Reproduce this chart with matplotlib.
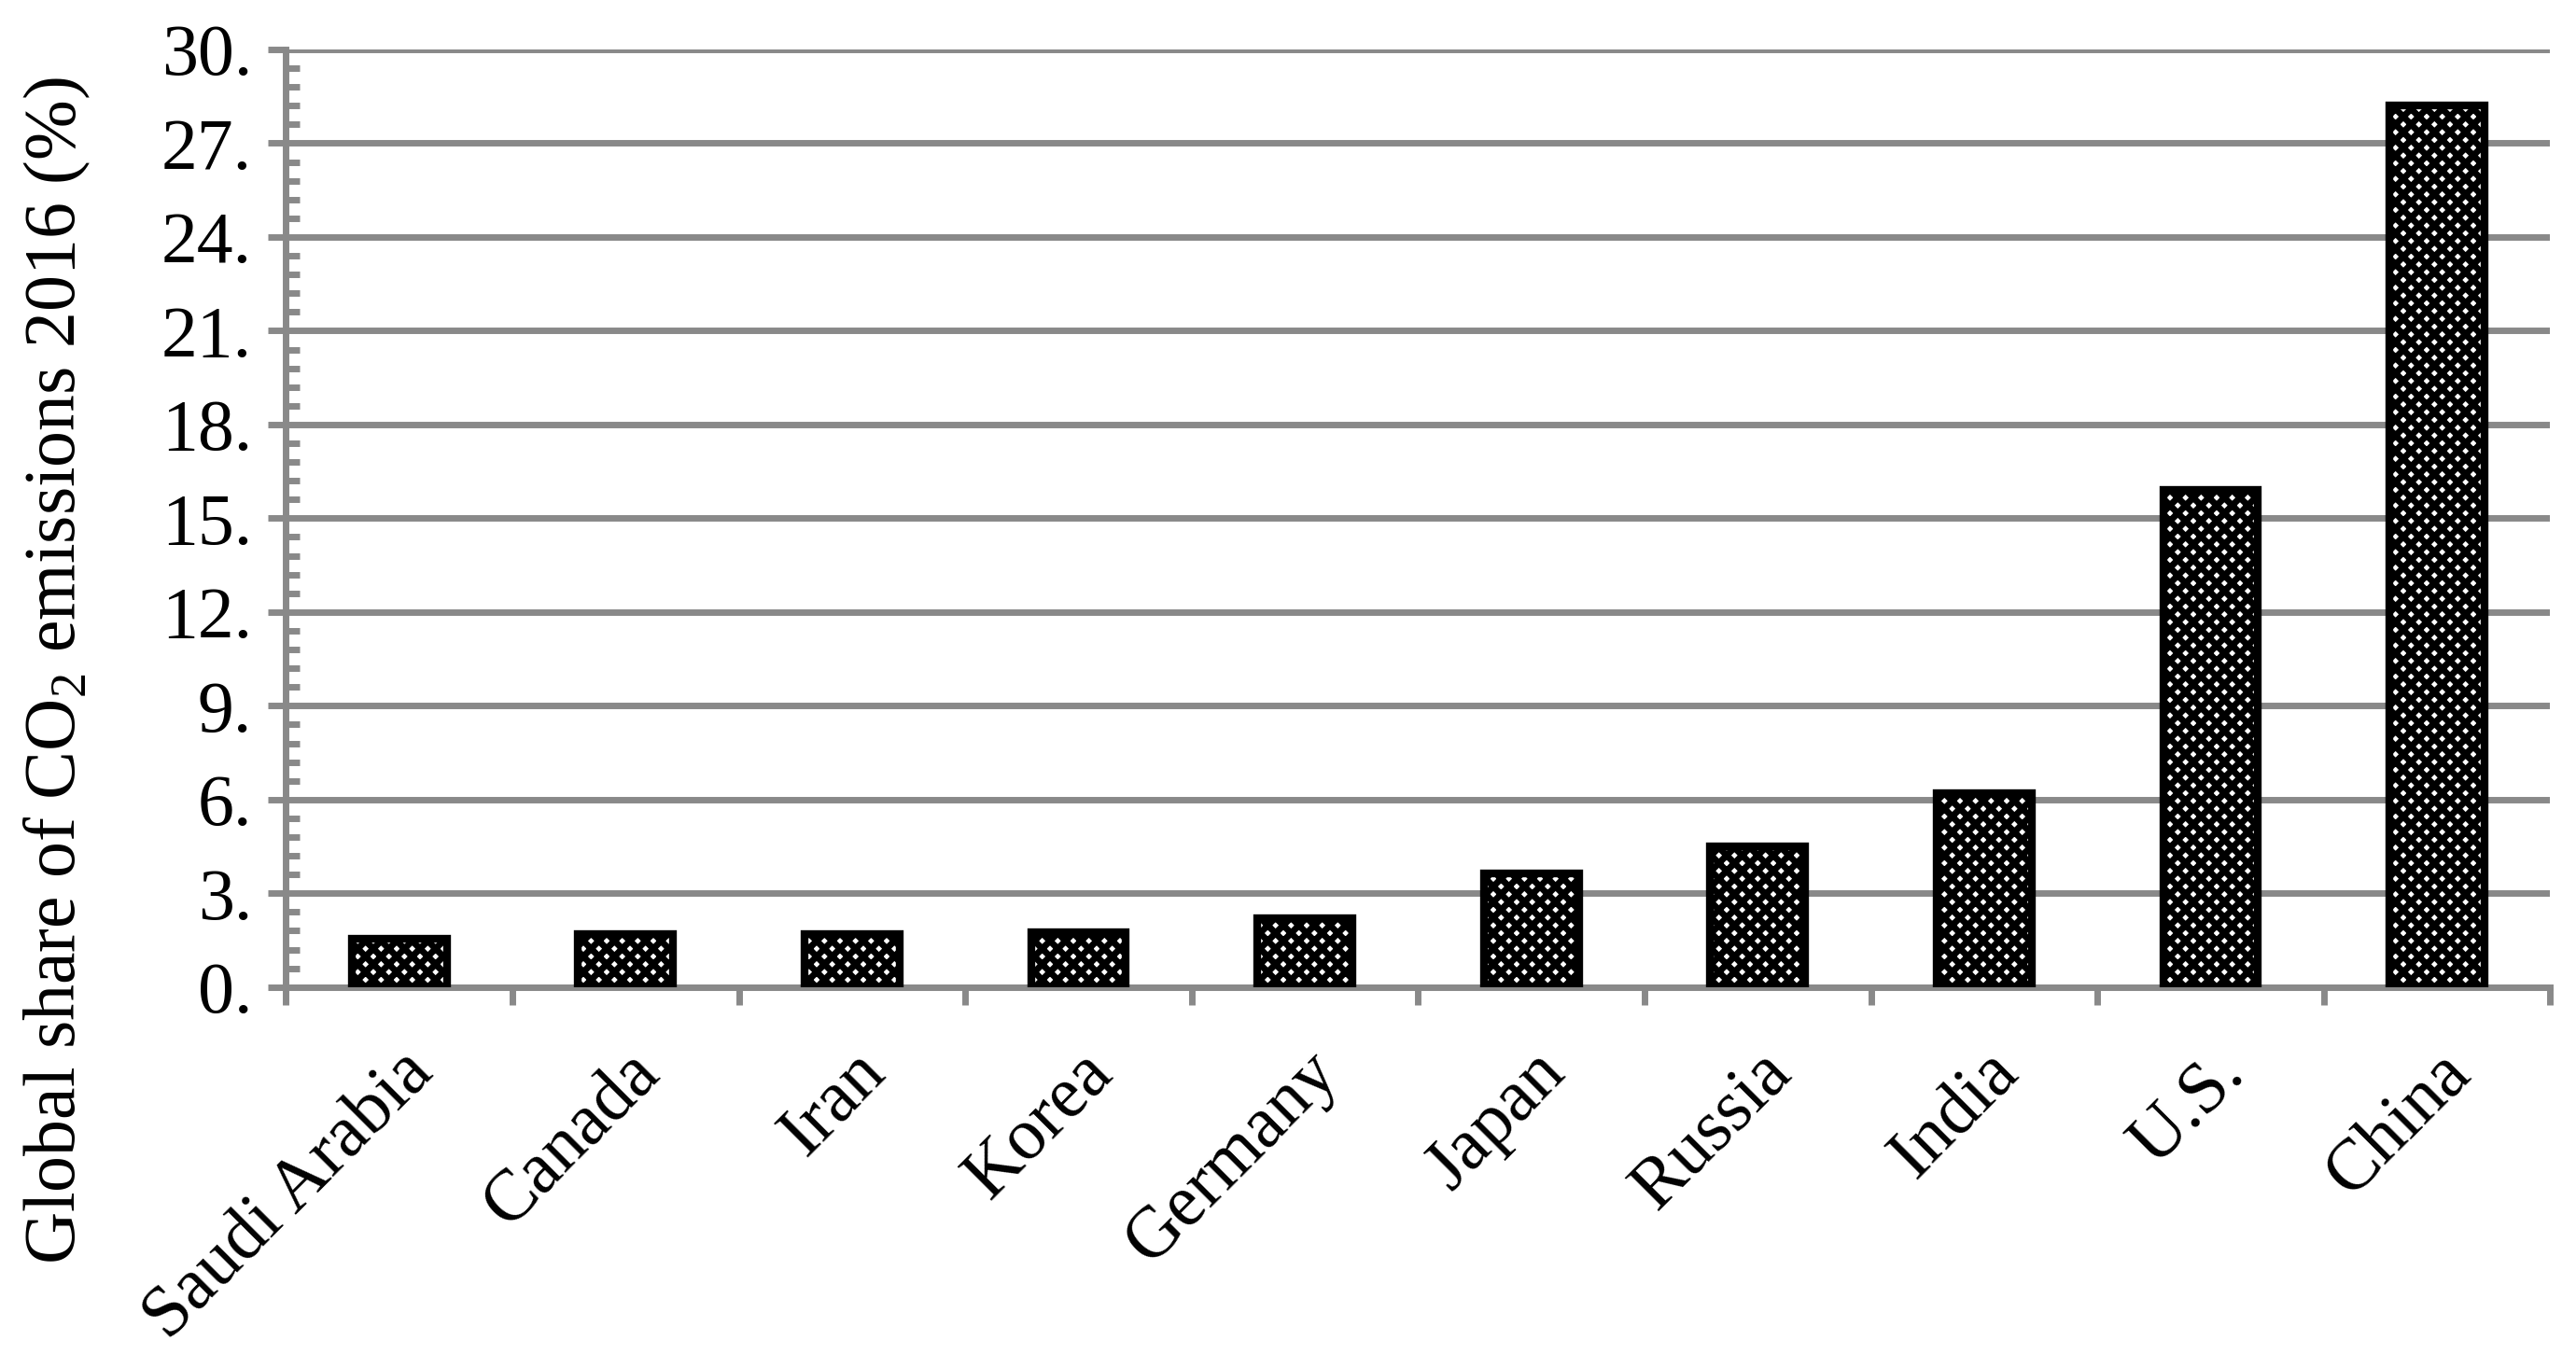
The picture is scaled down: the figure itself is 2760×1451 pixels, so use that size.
import numpy as np
import matplotlib
matplotlib.use("Agg")
import matplotlib.pyplot as plt
from matplotlib.ticker import MultipleLocator, FixedLocator

countries = ["Saudi Arabia", "Canada", "Iran", "Korea", "Germany",
             "Japan", "Russia", "India", "U.S.", "China"]
share = [1.55, 1.7, 1.7, 1.75, 2.2, 3.65, 4.5, 6.2, 15.9, 28.2]
yticks = [0, 3, 6, 9, 12, 15, 18, 21, 24, 27, 30]

plt.rcParams['font.family'] = ['Liberation Serif', 'DejaVu Serif']
plt.rcParams['mathtext.fontset'] = 'custom'
plt.rcParams['mathtext.rm'] = 'Liberation Serif'
plt.rcParams['hatch.linewidth'] = 2.5
plt.rcParams['hatch.color'] = 'black'

grey = '#898989'
fig = plt.figure(figsize=(13.8, 7.255), dpi=200)
ax = fig.add_axes([0.111, 0.271, 0.879, 0.6925])

x = np.arange(len(countries))
ax.bar(x, share, width=0.42, facecolor='white', edgecolor='black',
       hatch='xxxx', linewidth=3, zorder=3)

ax.set_xlim(-0.5, 9.5)
ax.set_ylim(0, 30)
ax.set_yticks(yticks)
ax.set_yticklabels([f"{v}." for v in yticks], fontsize=28)
ax.yaxis.set_minor_locator(MultipleLocator(0.6))
ax.grid(axis='y', color=grey, linewidth=2.5, zorder=0)

ax.set_xticks(x)
ax.set_xticklabels(countries, rotation=45, ha='right', va='top',
                   rotation_mode='anchor', fontsize=28)
ax.xaxis.set_minor_locator(FixedLocator(np.arange(-0.5, 10, 1)))

ax.tick_params(axis='y', which='major', direction='out', length=7,
               width=2.5, color=grey, pad=6)
ax.tick_params(axis='y', which='minor', direction='in', length=5.5,
               width=2.5, color=grey)
ax.tick_params(axis='x', which='major', length=0, pad=20)
ax.tick_params(axis='x', which='minor', direction='out', length=7,
               width=2.5, color=grey)

for s in ['top', 'right']:
    ax.spines[s].set_visible(False)
for s in ['left', 'bottom']:
    ax.spines[s].set_color(grey)
    ax.spines[s].set_linewidth(2.5)

fig.text(0.022, 0.505, "Global share of CO$_2$ emissions 2016 (%)",
         rotation=90, ha='center', va='center', fontsize=28)

fig.savefig("out.png", dpi=200, facecolor='white')
